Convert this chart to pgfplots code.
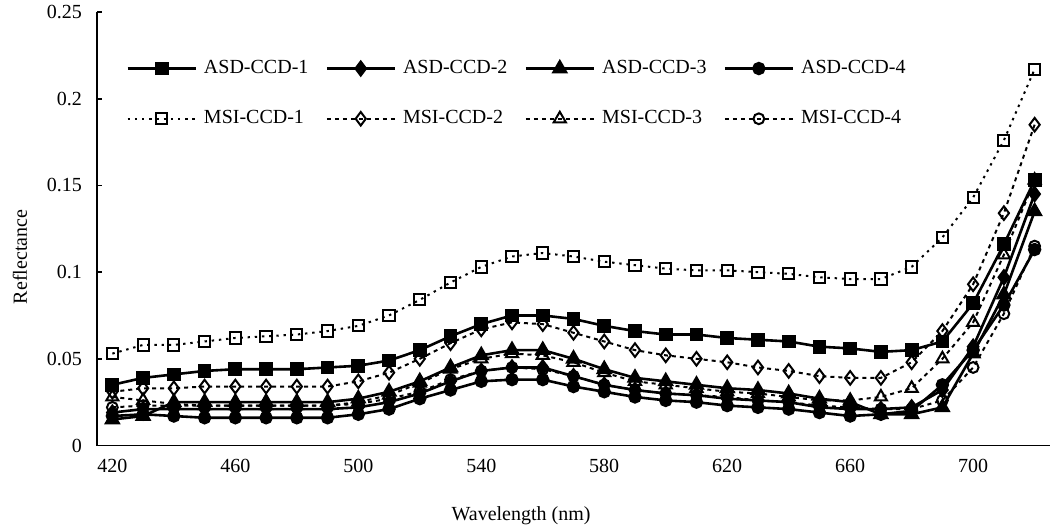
\documentclass[border=0pt]{standalone}
\usepackage{pgfplots}
\pgfplotsset{compat=1.18}
\usepackage{pgfplotstable}
\usepackage{fontspec}
\setmainfont{Liberation Serif}

\pgfplotstableread{
wl a1 a2 a3 a4 m1 m2 m3 m4
420 0.035 0.019 0.015 0.017 0.053 0.031 0.028 0.022
430 0.039 0.021 0.017 0.018 0.058 0.033 0.026 0.023
440 0.041 0.021 0.025 0.017 0.058 0.033 0.024 0.023
450 0.043 0.021 0.025 0.016 0.060 0.034 0.023 0.023
460 0.044 0.021 0.025 0.016 0.062 0.034 0.023 0.023
470 0.044 0.021 0.025 0.016 0.063 0.034 0.023 0.023
480 0.044 0.021 0.025 0.016 0.064 0.034 0.023 0.023
490 0.045 0.021 0.025 0.016 0.066 0.034 0.023 0.023
500 0.046 0.022 0.027 0.018 0.069 0.037 0.025 0.024
510 0.049 0.025 0.031 0.021 0.075 0.042 0.029 0.027
520 0.055 0.030 0.037 0.027 0.084 0.050 0.036 0.031
530 0.063 0.037 0.045 0.032 0.094 0.059 0.044 0.038
540 0.070 0.043 0.052 0.037 0.103 0.067 0.050 0.043
550 0.075 0.045 0.055 0.038 0.109 0.071 0.053 0.045
560 0.075 0.045 0.055 0.038 0.111 0.070 0.052 0.044
570 0.073 0.040 0.050 0.034 0.109 0.065 0.048 0.040
580 0.069 0.035 0.044 0.031 0.106 0.060 0.042 0.035
590 0.066 0.032 0.039 0.028 0.104 0.055 0.037 0.032
600 0.064 0.030 0.037 0.026 0.102 0.052 0.035 0.030
610 0.064 0.029 0.035 0.025 0.101 0.050 0.033 0.029
620 0.062 0.027 0.033 0.023 0.101 0.048 0.031 0.028
630 0.061 0.026 0.032 0.022 0.100 0.045 0.030 0.026
640 0.060 0.025 0.030 0.021 0.099 0.043 0.028 0.025
650 0.057 0.022 0.027 0.019 0.097 0.040 0.026 0.023
660 0.056 0.021 0.025 0.017 0.096 0.039 0.026 0.022
670 0.054 0.021 0.018 0.018 0.096 0.039 0.028 0.021
680 0.055 0.022 0.018 0.020 0.103 0.048 0.033 0.021
690 0.060 0.032 0.022 0.035 0.120 0.066 0.050 0.026
700 0.082 0.057 0.053 0.055 0.143 0.093 0.071 0.045
710 0.116 0.097 0.087 0.081 0.176 0.134 0.110 0.076
720 0.153 0.145 0.135 0.113 0.217 0.185 0.153 0.115
}\data

\begin{document}
\begin{tikzpicture}
\useasboundingbox (-48.5pt,-40pt) rectangle (477pt,222.75pt);
\begin{axis}[
  at={(0,0)}, anchor=south west,
  width=476.5pt, height=216.75pt, scale only axis,
  xmin=415, xmax=725, ymin=0, ymax=0.25,
  axis x line*=bottom, axis y line*=left,
  axis line style={line width=0.8pt, -},
  tick align=inside,
  xtick={420,460,...,700},
  minor xtick={425,435,...,715},
  ytick={0,0.05,0.1,0.15,0.2,0.25},
  scaled y ticks=false,
  yticklabels={0,0.05,0.1,0.15,0.2,0.25},
  /pgf/number format/assume math mode=true,
  x tick label style={font=\normalsize, yshift=-3.5pt},
  y tick label style={font=\normalsize, xshift=-4pt},
  xtick style={draw=none},
  minor tick length=3.5pt,
  major tick length=2.5pt,
  tick style={line width=0.8pt, black},
  minor tick style={line width=0.8pt, black},
  xlabel={Wavelength (nm)},
  ylabel={Reflectance},
  every axis y label/.style={at={(axis description cs:-0.081,0.435)}, rotate=90, anchor=center},
  every axis x label/.style={at={(axis description cs:0.445,0)}, anchor=center, yshift=-35.25pt},
  legend columns=4,
  legend cell align=left,
  legend style={draw=none, fill=none, inner sep=0pt, at={(axis description cs:0,1)}, anchor=north west,
    xshift=14.5pt, yshift=-22pt, row sep=13pt, font=\normalsize,
    /tikz/every even column/.append style={column sep=6.5pt},
    /tikz/every odd column/.append style={column sep=1.5pt}},
  legend image code/.code={\draw[mark repeat=2,mark phase=2,#1] plot coordinates {(0pt,0pt) (17pt,0pt) (34pt,0pt)};},
  clip=false,
]
\addplot[black, line width=1.3pt, mark=square*, mark size=2.8pt, mark options={solid}] table[x=wl,y=a1] {\data};
\addlegendentry{ASD-CCD-1}
\addplot[black, line width=1.3pt, mark=diamond*, mark size=3.3pt, mark options={solid}] table[x=wl,y=a2] {\data};
\addlegendentry{ASD-CCD-2}
\addplot[black, line width=1.3pt, mark=triangle*, mark size=3.5pt, mark options={solid}] table[x=wl,y=a3] {\data};
\addlegendentry{ASD-CCD-3}
\addplot[black, line width=1.3pt, mark=*, mark size=2.7pt, mark options={solid}] table[x=wl,y=a4] {\data};
\addlegendentry{ASD-CCD-4}
\addplot[black, line width=1pt, dash pattern=on 1.2pt off 2.4pt, mark=square, mark size=2.8pt, mark options={solid, fill=white, line width=1pt}] table[x=wl,y=m1] {\data};
\addlegendentry{MSI-CCD-1}
\addplot[black, line width=1pt, dash pattern=on 2pt off 2pt, mark=diamond, mark size=3.4pt, mark options={solid, fill=white, line width=1pt}] table[x=wl,y=m2] {\data};
\addlegendentry{MSI-CCD-2}
\addplot[black, line width=1pt, dash pattern=on 2pt off 2pt, mark=triangle, mark size=3.5pt, mark options={solid, fill=white, line width=1pt}] table[x=wl,y=m3] {\data};
\addlegendentry{MSI-CCD-3}
\addplot[black, line width=1pt, dash pattern=on 2pt off 2pt, mark=o, mark size=2.7pt, mark options={solid, fill=white, line width=1pt}] table[x=wl,y=m4] {\data};
\addlegendentry{MSI-CCD-4}
\end{axis}
\end{tikzpicture}
\end{document}
